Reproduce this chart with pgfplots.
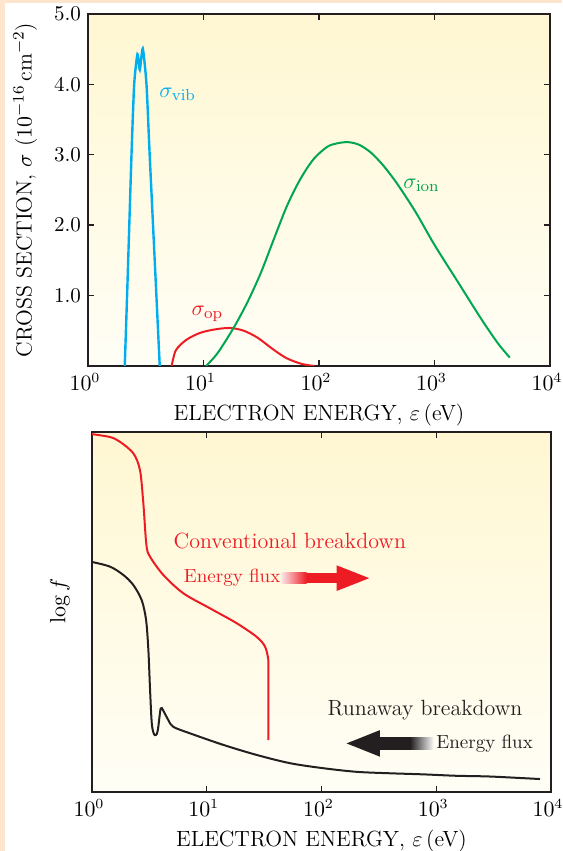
\documentclass[border=0pt]{standalone}
\usepackage{pgfplots}
\pgfplotsset{compat=1.18}
\definecolor{peach}{RGB}{253,230,204}
\definecolor{cblue}{RGB}{0,174,239}
\definecolor{cred}{RGB}{237,28,36}
\definecolor{cgreen}{RGB}{0,166,81}
\definecolor{cblack}{RGB}{35,31,32}
\definecolor{bgtop}{RGB}{255,247,210}
\definecolor{bgbot}{RGB}{255,254,246}
\begin{document}
\begin{tikzpicture}
\useasboundingbox (0pt,0pt) rectangle (281pt,425.5pt);
\fill[peach] (0pt,0pt) rectangle (281pt,425.5pt);
\fill[white] (2.5pt,0pt) rectangle (281pt,423.8pt);
% ---------------- top panel
\begin{axis}[at={(44pt,242.5pt)}, anchor=south west,
  width=231pt, height=176pt, scale only axis,
  xmode=log, xmin=1, xmax=10000, ymin=0, ymax=5,
  xtick={1,10,100,1000,10000}, xminorticks=false,
  ytick={1,2,3,4,5}, yticklabels={1.0,2.0,3.0,4.0,5.0},
  tick align=inside, major tick length=3pt,
  axis line style={line width=0.9pt, draw=cblack},
  tick style={line width=0.7pt, draw=cblack},
  tick label style={font=\fontsize{10.5}{12.5}\selectfont},
  xticklabel style={xshift=-1.5pt},
  label style={font=\fontsize{11}{13}\selectfont},
  xlabel={ELECTRON ENERGY, $\varepsilon$\,(eV)},
  ylabel={CROSS SECTION, $\sigma$ ($10^{-16}$\,cm$^{-2}$)},
  ylabel style={at={(axis description cs:-0.136,0.5)}, anchor=center},
  axis background/.style={shade, top color=bgtop, bottom color=bgbot},
]
\addplot[cblue, line width=1.2pt, smooth, tension=0.35] coordinates {
(2.08,0) (2.18,1.0) (2.38,3.0) (2.51,4.0) (2.68,4.43) (2.81,4.21) (2.98,4.51) (3.21,4.0) (3.42,3.0) (3.91,1.0) (4.18,0)};
\addplot[cred, line width=1pt, smooth] coordinates {
(5.30,0) (5.75,0.22) (7.08,0.37) (9.33,0.47) (12.6,0.52) (17.0,0.54) (22.4,0.50) (29.5,0.40) (39.8,0.24) (52.5,0.11) (70.8,0.03) (91.2,0)};
\addplot[cgreen, line width=1pt, smooth] coordinates {
(10.5,0) (13.2,0.18) (18.2,0.54) (23.9,0.90) (31.3,1.32) (40.6,1.80) (53.0,2.28) (69.2,2.66) (89.9,2.94) (117,3.11) (141,3.16) (178,3.18) (224,3.14) (282,3.03) (355,2.86) (447,2.65) (562,2.41) (708,2.15) (1000,1.72) (1585,1.20) (2512,0.68) (3548,0.32) (4487,0.12)};
\node[cblue, font=\fontsize{11}{13}\selectfont] at (axis cs:5.97,3.86) {$\sigma_{\mathrm{vib}}$};
\node[cred, font=\fontsize{11}{13}\selectfont] at (axis cs:10.8,0.74) {$\sigma_{\mathrm{op}}$};
\node[cgreen, font=\fontsize{11}{13}\selectfont] at (axis cs:773,2.57) {$\sigma_{\mathrm{ion}}$};
\end{axis}
% ---------------- bottom panel
\begin{axis}[at={(46pt,29.5pt)}, anchor=south west,
  width=229.5pt, height=180pt, scale only axis,
  xmode=log, xmin=1, xmax=10000, ymin=0, ymax=10,
  xtick={1,10,100,1000,10000}, xminorticks=false, ytick=\empty,
  tick align=inside, major tick length=3pt,
  axis line style={line width=0.9pt, draw=cblack},
  tick style={line width=0.7pt, draw=cblack},
  tick label style={font=\fontsize{10.5}{12.5}\selectfont},
  xticklabel style={xshift=-1.5pt},
  label style={font=\fontsize{11}{13}\selectfont},
  xlabel={ELECTRON ENERGY, $\varepsilon$\,(eV)},
  ylabel={$\log f$},
  ylabel style={at={(axis description cs:-0.07,0.53)}, anchor=center},
  axis background/.style={shade, top color=bgtop, bottom color=bgbot},
]
\addplot[cred, line width=1pt, smooth, tension=0.5] coordinates {
(1.0,9.94) (1.435,9.86) (1.75,9.73) (2.29,9.41) (2.62,8.94) (2.80,8.03) (2.98,6.86) (3.20,6.54) (4.18,6.03) (6.25,5.52) (10.7,5.10) (18.2,4.69) (27.2,4.31) (32.2,4.04) (34.4,3.67) (34.4,3.3) (34.4,1.44)};
\addplot[cblack, line width=1pt, smooth, tension=0.5] coordinates {
(1.0,6.39) (1.435,6.26) (1.874,6.03) (2.29,5.75) (2.71,5.33) (2.96,4.78) (3.10,3.94) (3.20,2.90) (3.31,1.95) (3.42,1.66) (3.54,1.58) (3.68,1.62) (3.78,1.80) (3.97,2.32) (4.18,2.26) (4.62,2.00) (5.11,1.81) (7.14,1.63) (13.9,1.31) (27.2,1.03) (53.2,0.80) (104,0.66) (203,0.56) (395,0.52) (771,0.49) (1507,0.45) (2940,0.43) (8017,0.36)};
\node[cred, font=\fontsize{11}{13}\selectfont] at (axis cs:53,6.97) {Conventional breakdown};
\node[cblack, font=\fontsize{11}{13}\selectfont] at (axis cs:798,2.28) {Runaway breakdown};
\coordinate (ra) at (axis cs:45,5.94);
\coordinate (ba) at (axis cs:975,1.35);
\node[cred, anchor=east, inner sep=0pt, font=\fontsize{9.5}{11}\selectfont] at ([xshift=-0.5pt]ra) {Energy flux};
\shade[left color=cred!12, right color=cred] ([yshift=-2.65pt]ra) rectangle ([xshift=12.5pt,yshift=2.65pt]ra);
\fill[cred] ([xshift=12.4pt,yshift=-2.65pt]ra) rectangle ([xshift=27.6pt,yshift=2.65pt]ra);
\fill[cred] ([xshift=27.5pt,yshift=6.4pt]ra) -- ([xshift=43.8pt]ra) -- ([xshift=27.5pt,yshift=-6.4pt]ra) -- cycle;
\node[cblack, anchor=west, inner sep=0pt, font=\fontsize{9.5}{11}\selectfont] at ([xshift=0.5pt]ba) {Energy flux};
\shade[left color=cblack, right color=white] ([xshift=-12.5pt,yshift=-3.15pt]ba) rectangle ([xshift=-0.5pt,yshift=3.15pt]ba);
\fill[cblack] ([xshift=-27.6pt,yshift=-3.15pt]ba) rectangle ([xshift=-12.4pt,yshift=3.15pt]ba);
\fill[cblack] ([xshift=-27.5pt,yshift=6.65pt]ba) -- ([xshift=-44.2pt]ba) -- ([xshift=-27.5pt,yshift=-6.65pt]ba) -- cycle;
\end{axis}
\end{tikzpicture}
\end{document}
